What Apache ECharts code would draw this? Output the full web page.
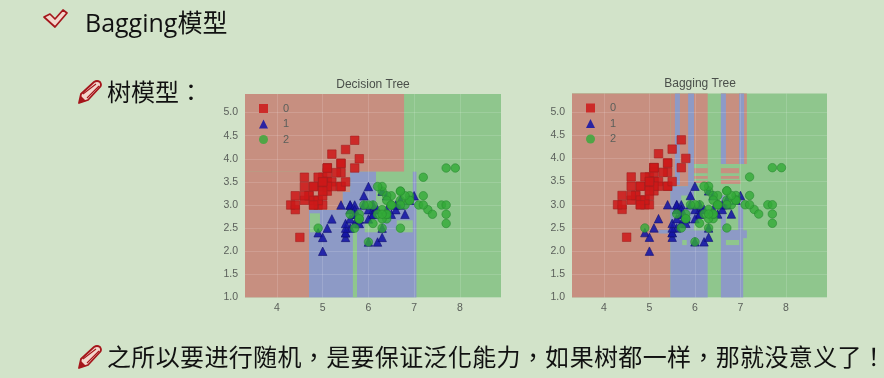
<!DOCTYPE html>
<html>
<head>
<meta charset="utf-8">
<script src="https://cdn.jsdelivr.net/npm/echarts@6/dist/echarts.min.js"></script>
<style>
  html, body { margin: 0; padding: 0; width: 884px; height: 378px; overflow: hidden; background: #d2e3c9; }
  #chart { position: absolute; left: 0; top: 0; width: 884px; height: 378px; filter: blur(0.75px); }
  .line {
    position: absolute; white-space: nowrap; color: #111; font-size: 24px; line-height: 30px;
    font-family: "Open Sans", "Noto Sans CJK TC", sans-serif;
  }
  .icon { position: absolute; }
</style>
</head>
<body>
<div id="chart"></div>

<svg class="icon" style="left:40px;top:6px" width="30" height="24" viewBox="0 0 30 24">
  <path d="M4 11 L10 8 L15 13 L23 4 L27 7 L15 21 Z" fill="#f3d6cc" stroke="#a5161b" stroke-width="1.7" stroke-linejoin="round"/>
</svg>
<div class="line" style="left:85px;top:7px;font-size:25px">Bagging模型</div>

<svg class="icon" style="left:77px;top:79px" width="26" height="26" viewBox="0 0 26 26">
  <path d="M2 24 L4 15 L17 3 Q20 1 23 3 Q25 6 23 8 L11 21 Z" fill="#f3d6cc" stroke="#a5161b" stroke-width="1.8" stroke-linejoin="round"/>
  <path d="M6 15 L19 5 M10 19 L22 7" stroke="#a5161b" stroke-width="1.1" fill="none"/>
  <path d="M2 24 L4 17 L9 22 Z" fill="#a5161b"/>
</svg>
<div class="line" style="left:107px;top:77px">树模型：</div>

<svg class="icon" style="left:77px;top:344px" width="26" height="26" viewBox="0 0 26 26">
  <path d="M2 24 L4 15 L17 3 Q20 1 23 3 Q25 6 23 8 L11 21 Z" fill="#f3d6cc" stroke="#a5161b" stroke-width="1.8" stroke-linejoin="round"/>
  <path d="M6 15 L19 5 M10 19 L22 7" stroke="#a5161b" stroke-width="1.1" fill="none"/>
  <path d="M2 24 L4 17 L9 22 Z" fill="#a5161b"/>
</svg>
<div class="line" style="left:107px;top:342px;letter-spacing:0.35px">之所以要进行随机，是要保证泛化能力，如果树都一样，那就没意义了！</div>

<script>
// 散点 [x, y]
const class0 = [[5.1,3.5],[4.9,3.0],[4.7,3.2],[4.6,3.1],[5.0,3.6],[5.4,3.9],[4.6,3.4],[5.0,3.4],[4.4,2.9],[4.9,3.1],[5.4,3.7],[4.8,3.4],[4.8,3.0],[4.3,3.0],[5.8,4.0],[5.7,4.4],[5.4,3.9],[5.1,3.5],[5.7,3.8],[5.1,3.8],[5.4,3.4],[5.1,3.7],[4.6,3.6],[5.1,3.3],[4.8,3.4],[5.0,3.0],[5.0,3.4],[5.2,3.5],[5.2,3.4],[4.7,3.2],[4.8,3.1],[5.4,3.4],[5.2,4.1],[5.5,4.2],[4.9,3.1],[5.0,3.2],[5.5,3.5],[4.9,3.6],[4.4,3.0],[5.1,3.4],[5.0,3.5],[4.5,2.3],[4.4,3.2],[5.0,3.5],[5.1,3.8],[4.8,3.0],[5.1,3.8],[4.6,3.2],[5.3,3.7],[5.0,3.3]];
const class1 = [[7.0,3.2],[6.4,3.2],[6.9,3.1],[5.5,2.3],[6.5,2.8],[5.7,2.8],[6.3,3.3],[4.9,2.4],[6.6,2.9],[5.2,2.7],[5.0,2.0],[5.9,3.0],[6.0,2.2],[6.1,2.9],[5.6,2.9],[6.7,3.1],[5.6,3.0],[5.8,2.7],[6.2,2.2],[5.6,2.5],[5.9,3.2],[6.1,2.8],[6.3,2.5],[6.1,2.8],[6.4,2.9],[6.6,3.0],[6.8,2.8],[6.7,3.0],[6.0,2.9],[5.7,2.6],[5.5,2.4],[5.5,2.4],[5.8,2.7],[6.0,2.7],[5.4,3.0],[6.0,3.4],[6.7,3.1],[6.3,2.3],[5.6,3.0],[5.5,2.5],[5.5,2.6],[6.1,3.0],[5.8,2.6],[5.0,2.3],[5.6,2.7],[5.7,3.0],[5.7,2.9],[6.2,2.9],[5.1,2.5],[5.7,2.8]];
const class2 = [[6.3,3.3],[5.8,2.7],[7.1,3.0],[6.3,2.9],[6.5,3.0],[7.6,3.0],[4.9,2.5],[7.3,2.9],[6.7,2.5],[7.2,3.6],[6.5,3.2],[6.4,2.7],[6.8,3.0],[5.7,2.5],[5.8,2.8],[6.4,3.2],[6.5,3.0],[7.7,3.8],[7.7,2.6],[6.0,2.2],[6.9,3.2],[5.6,2.8],[7.7,2.8],[6.3,2.7],[6.7,3.3],[7.2,3.2],[6.2,2.8],[6.1,3.0],[6.4,2.8],[7.2,3.0],[7.4,2.8],[7.9,3.8],[6.4,2.8],[6.3,2.8],[6.1,2.6],[7.7,3.0],[6.3,3.4],[6.4,3.1],[6.0,3.0],[6.9,3.1],[6.7,3.1],[6.9,3.1],[5.8,2.7],[6.8,3.2],[6.7,3.3],[6.7,3.0],[6.3,2.5],[6.5,3.0],[6.2,3.4],[5.9,3.0]];

// 决策区域 [x0, x1, y0, y1, 类别]，后面的盖住前面的
const treeRegions = [
  [3.3,8.9,1.0,5.4,2],
  [3.3,6.78,3.72,5.4,0],
  [3.3,4.7,1.0,3.72,0],
  [4.7,7.05,1.0,2.89,1],
  [4.7,5.44,2.89,3.28,0],
  [4.7,5.6,3.28,3.72,0],
  [5.44,6.17,2.89,3.28,1],
  [5.6,6.17,3.28,3.72,1],
  [6.17,6.97,3.04,3.72,2],
  [6.17,6.97,2.89,3.04,1],
  [6.97,7.05,2.89,3.72,1],
  [4.72,4.94,2.41,2.82,2],
  [5.66,5.75,1.0,2.75,2],
  [5.92,6.3,2.41,2.67,2],
  [6.62,6.97,2.41,2.67,2],
  [6.2,6.45,2.67,3.04,2],
  [6.17,6.65,3.04,3.3,2]
];
const baggingRegions = [
  [3.3,8.9,1.0,5.4,2],
  [3.3,5.46,1.0,5.4,0],
  // 上方竖条
  [5.46,6.28,3.4,5.4,0],
  [6.57,7.14,3.88,5.4,0],
  [5.56,5.67,3.43,5.4,1],
  [5.85,5.98,3.3,5.4,1],
  [6.57,6.68,3.88,5.4,1],
  [6.97,7.08,3.88,5.4,1],
  [5.98,6.28,3.3,3.88,2],
  [6.57,7.14,2.45,3.88,2],
  // 横条
  [5.98,6.28,3.68,3.79,0],
  [5.98,6.28,3.56,3.62,0],
  [5.98,6.28,3.47,3.52,0],
  [6.57,6.97,3.68,3.79,0],
  [6.57,6.97,3.56,3.62,0],
  [6.57,7.0,3.45,3.53,0],
  // 下方
  [5.46,6.28,1.0,2.45,1],
  [6.57,7.06,1.0,2.45,1],
  [6.57,7.14,2.28,2.45,1],
  [5.46,5.98,2.45,3.4,1],
  [5.2,5.46,2.38,2.46,1],
  [5.98,6.28,2.45,3.3,2],
  [5.7,5.85,2.95,3.2,2],
  [5.95,6.12,2.62,2.85,1],
  [6.57,6.68,2.45,3.2,1],
  [6.95,7.06,2.45,3.1,1],
  [5.72,5.82,2.13,2.24,2],
  [6.68,6.97,2.13,2.24,2]
];

const xTicks = [4, 5, 6, 7, 8];
const yTicks = [1.0, 1.5, 2.0, 2.5, 3.0, 3.5, 4.0, 4.5, 5.0];
const classNames = ['0', '1', '2'];
const regionColors = ['#c78f80', '#8d9ac6', '#8fc68d'];
const pointColors = ['rgba(205,25,25,0.85)', 'rgba(20,20,165,0.88)', 'rgba(50,170,55,0.8)'];
const pointBorders = ['#a52020', '#101070', '#2a8a32'];
const symbols = ['rect', 'triangle', 'circle'];

function renderRegion (params, api) {
  const p0 = api.coord([api.value(0), api.value(2)]);
  const p1 = api.coord([api.value(1), api.value(3)]);
  return {
    type: 'rect',
    shape: { x: p0[0], y: p1[1], width: p1[0] - p0[0], height: p0[1] - p1[1] },
    style: { fill: regionColors[api.value(4)] }
  };
}

function makeAxis (type, idx) {
  const isX = type === 'x';
  const ticks = isX ? xTicks : yTicks;
  return {
    type: 'value',
    gridIndex: idx,
    min: isX ? 3.3 : 1.0,
    max: isX ? 8.9 : 5.4,
    z: 3,
    axisLine: { show: false },
    axisTick: { show: false, customValues: ticks },
    axisLabel: {
      customValues: ticks,
      color: '#5a5f5a',
      fontSize: 10.5,
      fontFamily: 'Liberation Sans',
      margin: isX ? 5 : 7,
      formatter: v => isX ? String(v) : v.toFixed(1)
    },
    splitLine: { show: true, lineStyle: { color: 'rgba(255,255,255,0.14)', width: 1 } }
  };
}

function makeSeries (regions, idx) {
  const list = [{
    name: 'regions' + idx,
    type: 'custom',
    xAxisIndex: idx,
    yAxisIndex: idx,
    renderItem: renderRegion,
    encode: { x: [0, 1], y: [2, 3] },
    data: regions,
    silent: true,
    z: 1
  }];
  [class0, class1, class2].forEach((pts, i) => {
    list.push({
      name: classNames[i],
      type: 'scatter',
      xAxisIndex: idx,
      yAxisIndex: idx,
      symbol: symbols[i],
      symbolSize: 8.5,
      data: pts,
      z: 5 + i,
      itemStyle: { color: pointColors[i], borderColor: pointBorders[i], borderWidth: 0.6, opacity: 1 }
    });
  });
  return list;
}

function makeLegend (left, top) {
  return {
    left: left,
    top: top,
    orient: 'vertical',
    itemWidth: 9,
    itemHeight: 9,
    itemGap: 4.5,
    selectedMode: false,
    itemStyle: { borderWidth: 0 },
    textStyle: { color: '#5a5f5a', fontSize: 11, fontFamily: 'Liberation Sans', padding: [0, 0, 0, 10] },
    data: classNames.map((n, i) => ({ name: n, icon: symbols[i] }))
  };
}

const chart = echarts.init(document.getElementById('chart'));
chart.setOption({
  animation: false,
  backgroundColor: 'transparent',
  title: [
    { text: 'Decision Tree', left: 368, top: 74, textAlign: 'center', textStyle: { color: '#4a4f4a', fontSize: 12, fontWeight: 'normal', fontFamily: 'Liberation Sans' } },
    { text: 'Bagging Tree', left: 695, top: 73, textAlign: 'center', textStyle: { color: '#4a4f4a', fontSize: 12, fontWeight: 'normal', fontFamily: 'Liberation Sans' } }
  ],
  legend: [makeLegend(254, 98), makeLegend(581, 97.5)],
  grid: [
    { left: 245, top: 94, width: 256, height: 203.5 },
    { left: 572, top: 93.5, width: 255, height: 204 }
  ],
  xAxis: [makeAxis('x', 0), makeAxis('x', 1)],
  yAxis: [makeAxis('y', 0), makeAxis('y', 1)],
  series: [...makeSeries(treeRegions, 0), ...makeSeries(baggingRegions, 1)]
});
</script>
</body>
</html>
